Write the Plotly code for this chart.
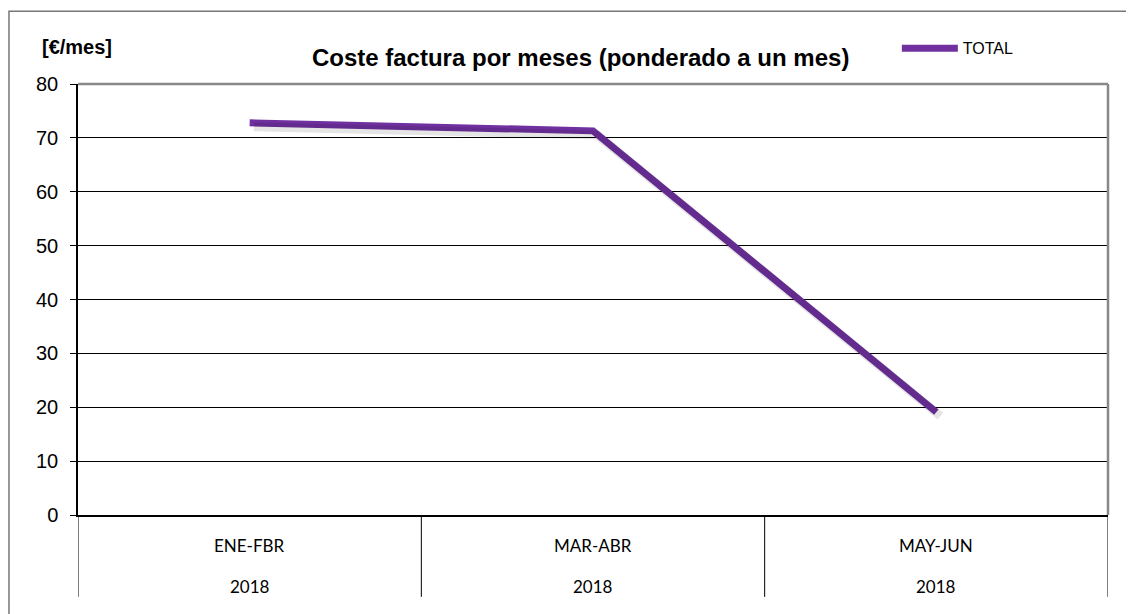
import plotly.graph_objects as go

periods = ['ENE-FBR', 'MAR-ABR', 'MAY-JUN']
years = ['2018', '2018', '2018']
total = [72.8, 71.3, 19.1]

PURPLE = '#7030A0'

fig = go.Figure()
# soft drop shadow, drawn on slightly shifted twin axes
fig.add_trace(go.Scatter(
    x=periods,
    y=total,
    mode='lines',
    line=dict(color='rgba(0,0,0,0.10)', width=9),
    xaxis='x2',
    yaxis='y2',
    showlegend=False,
    hoverinfo='skip',
))
fig.add_trace(go.Scatter(
    x=periods,
    y=total,
    mode='lines',
    name='TOTAL',
    line=dict(color=PURPLE, width=7),
))

# category labels below the plot, two rows like the excel table
for p, yr in zip(periods, years):
    fig.add_annotation(x=p, y=-0.07, xref='x', yref='paper', text=p, showarrow=False,
                       font=dict(family='Lato', size=17, color='#000'), yanchor='middle')
    fig.add_annotation(x=p, y=-0.165, xref='x', yref='paper', text=yr, showarrow=False,
                       font=dict(family='Lato', size=17, color='#000'), yanchor='middle')

# vertical dividers between categories
for xv in [-0.5, 0.5, 1.5, 2.5]:
    fig.add_shape(type='line', xref='x', yref='paper', x0=xv, x1=xv, y0=0, y1=-0.19,
                  line=dict(color='#000', width=1))

# plot border (top / right gray)
fig.add_shape(type='line', xref='paper', yref='paper', x0=0, x1=1, y0=1, y1=1,
              line=dict(color='#888', width=2.5))
fig.add_shape(type='line', xref='paper', yref='paper', x0=1, x1=1, y0=0, y1=1,
              line=dict(color='#888', width=2.5))

# outer chart frame
fig.add_shape(type='rect', xref='paper', yref='paper', x0=-0.067, x1=1.10, y0=-0.30, y1=1.169,
              line=dict(color='#777', width=1.5))

fig.add_annotation(x=0.035, y=1.086, xref='paper', yref='paper', text='<b>[€/mes]</b>',
                   showarrow=False, font=dict(family='Liberation Sans', size=20, color='#000'),
                   xanchor='right', yanchor='middle')

fig.update_xaxes(
    type='category',
    range=[-0.5, 2.5],
    showticklabels=False,
    showgrid=False,
    showline=True,
    linecolor='#000',
    linewidth=1.5,
    ticks='',
    zeroline=False,
)
fig.update_yaxes(
    range=[0, 80],
    dtick=10,
    showgrid=True,
    gridcolor='#000',
    gridwidth=1,
    showline=True,
    linecolor='#000',
    linewidth=1.5,
    ticks='outside',
    ticklen=6,
    tickcolor='#000',
    zeroline=False,
    ticklabelstandoff=8,
    tickfont=dict(family='Liberation Sans', size=20, color='#000'),
)
fig.update_layout(
    width=1134,
    height=614,
    margin=dict(l=70, r=34, t=76, b=107),
    plot_bgcolor='white',
    paper_bgcolor='white',
    xaxis2=dict(type='category', overlaying='x', range=[-0.512, 2.488], visible=False),
    yaxis2=dict(overlaying='y', range=[0.75, 80.75], visible=False),
    title=dict(
        text='<b>Coste factura por meses (ponderado a un mes)</b>',
        x=0.505, xanchor='center', y=0.9186, yanchor='middle',
        font=dict(family='Liberation Sans', size=24, color='#000'),
    ),
    showlegend=True,
    legend=dict(
        x=0.795, y=1.083, xanchor='left', yanchor='middle',
        font=dict(family='Liberation Sans', size=16, color='#000'),
        bgcolor='rgba(0,0,0,0)',
        itemwidth=56,
    ),
)

fig.write_html('out.html')
